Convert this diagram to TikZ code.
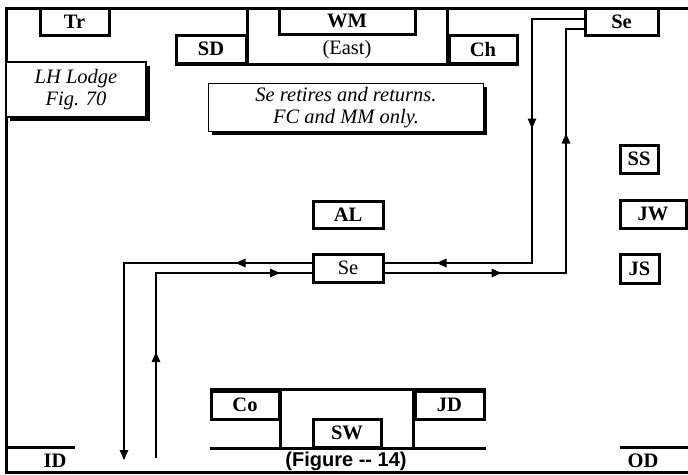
\documentclass[tikz,border=0pt]{standalone}
\usepackage{fontspec}
\setmainfont{Liberation Serif}
\setsansfont{Liberation Sans}
\usetikzlibrary{arrows.meta,calc,shadows,decorations.markings}
\newcommand{\lodgefont}{\fontsize{20.5}{22}\selectfont}
\tikzset{
  lbl/.style={draw,line width=3pt,inner sep=0pt,font=\lodgefont\bfseries},
  plainlbl/.style={draw,line width=3pt,inner sep=0pt,font=\lodgefont},
  notebox/.style={draw,line width=1.2pt,fill=white,align=center,font=\lodgefont\itshape,
    drop shadow={shadow xshift=3.5pt,shadow yshift=-3.5pt,fill=black,opacity=1}},
  wall/.style={line width=3pt},
  wire/.style={line width=1.4pt},
  tip/.style={-{Triangle[length=10pt,width=8.5pt]}},
  midtips/.style 2 args={postaction=decorate,decoration={markings,
    mark=at position #1 with {\arrow{Triangle[length=10pt,width=8.5pt]}},
    mark=at position #2 with {\arrow{Triangle[length=10pt,width=8.5pt]}}}},
  midtip/.style={postaction=decorate,decoration={markings,
    mark=at position #1 with {\arrow{Triangle[length=10pt,width=8.5pt]}}}}
}

\begin{document}
\begin{tikzpicture}[x=1pt,y=-1pt]
\useasboundingbox (0,0) rectangle (688,474);

\draw[wall] (688,8) -- (6,8) -- (6,472) -- (688,472);

\node[lbl,minimum width=69,minimum height=27] (tr) at (74.5,21.5) {Tr};
\node[lbl,minimum width=70,minimum height=28] (sd) at (211,49) {SD};
\node[lbl,minimum width=136,minimum height=26] (wm) at (347,21) {WM};
\node[font=\lodgefont] (east) at (347,50) {(East)};
\node[lbl,minimum width=68,minimum height=28] (ch) at (483,49) {Ch};
\node[lbl,minimum width=73,minimum height=27] (seN) at (621.5,21.5) {Se};

\draw[wall] (sd.south west) -- (ch.south east);
\draw[wall] (sd.south east) -- (sd.east |- 0,8);
\draw[wall] (ch.south west) -- (ch.west |- 0,8);

\node[notebox,minimum width=140,minimum height=55] (lodge) at (76,89.5) {LH Lodge\\Fig. 70};
\node[notebox,minimum width=275,minimum height=38] (note) at (346,107.5) {Se retires and returns.\\FC and MM only.};

\node[lbl,minimum width=38,minimum height=28] (ss) at (639,159) {SS};
\node[lbl,minimum width=70,minimum height=27] (al) at (348,214.5) {AL};
\node[lbl,minimum width=66,minimum height=28] (jw) at (653,214) {JW};
\node[plainlbl,minimum width=70,minimum height=28] (seM) at (348,268) {Se};
\node[lbl,minimum width=39,minimum height=29] (js) at (639.5,268.5) {JS};

\node[lbl,minimum width=68,minimum height=28] (co) at (245,405) {Co};
\node[lbl,minimum width=68,minimum height=28] (sw) at (347,433) {SW};
\node[lbl,minimum width=69,minimum height=28] (jd) at (449.5,405) {JD};

\draw[wall] (co.north west) -- (jd.north east);
\draw[wall] (co.south west |- sw.south) -- (jd.south east |- sw.south);
\draw[wall] (co.north east) -- (co.east |- sw.south);
\draw[wall] (jd.north west) -- (jd.west |- sw.south);

\node[font=\lodgefont\bfseries] (id) at (55,461) {ID};
\node[font=\lodgefont\bfseries] (od) at (643,461) {OD};
\node[font=\fontsize{20}{22}\selectfont\sffamily\bfseries] (fig) at (346,461) {(Figure -{}- 14)};
\draw[wall] (6,447) -- (75,447);
\draw[wall] (620,447) -- (688,447);

\coordinate (iddown) at (124,460);
\coordinate (idup) at (156,458);

\draw[wire,midtips={161pt}{391pt}] ([yshift=2.5pt]seN.west) -| (532,263) -- ([yshift=5pt]seM.east);
\draw[wire,midtips={117pt}{321pt}] ([yshift=-5pt]seM.east) -| (566,29) -- ([yshift=-7.5pt]seN.west);
\draw[wire,tip,midtip=76pt] ([yshift=5pt]seM.west) -| (iddown);
\draw[wire,midtips={106pt}{309pt}] (idup) |- ([yshift=-5pt]seM.west);

\end{tikzpicture}
\end{document}
